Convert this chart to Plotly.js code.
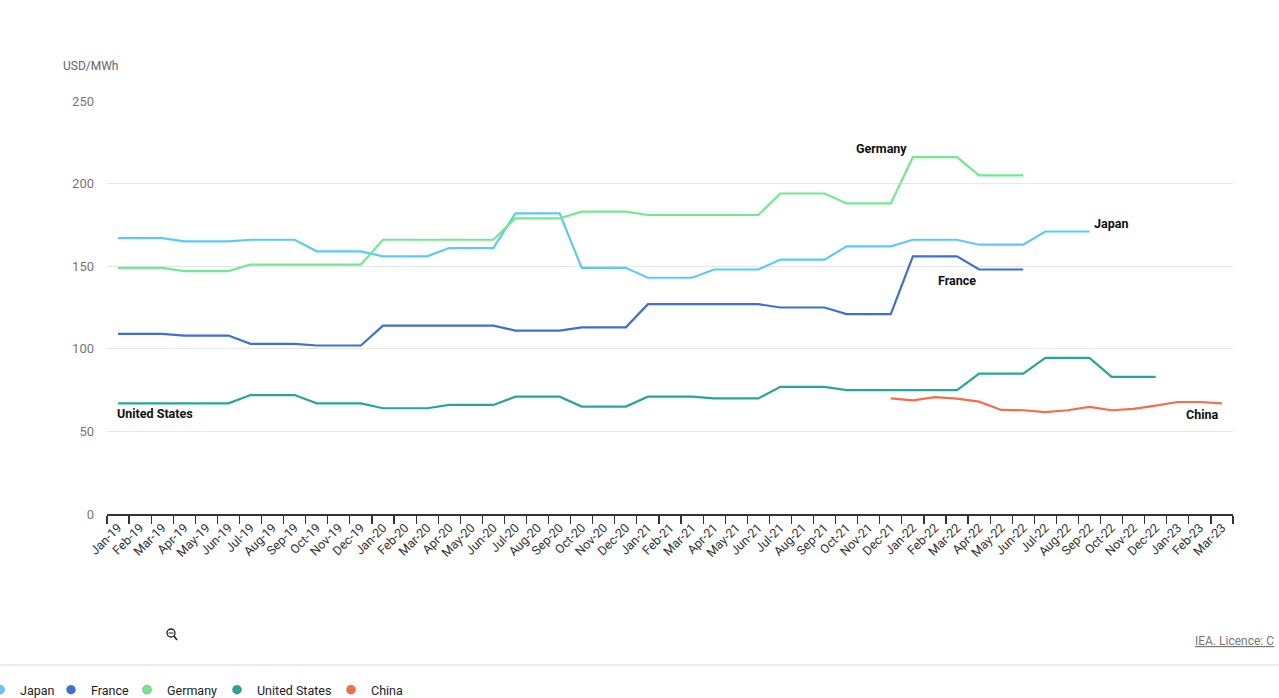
<!DOCTYPE html>
<html>
<head>
<meta charset="utf-8">
<script src="https://cdn.plot.ly/plotly-3.0.1.min.js"></script>
<style>
  html, body { margin: 0; padding: 0; background: #ffffff; }
  #chart { width: 1279px; height: 698px; }
</style>
</head>
<body>
<div id="chart"></div>
<script>
const MONTHS = [
  "Jan-19", "Feb-19", "Mar-19", "Apr-19", "May-19", "Jun-19", "Jul-19", "Aug-19", "Sep-19", "Oct-19", "Nov-19", "Dec-19",
  "Jan-20", "Feb-20", "Mar-20", "Apr-20", "May-20", "Jun-20", "Jul-20", "Aug-20", "Sep-20", "Oct-20", "Nov-20", "Dec-20",
  "Jan-21", "Feb-21", "Mar-21", "Apr-21", "May-21", "Jun-21", "Jul-21", "Aug-21", "Sep-21", "Oct-21", "Nov-21", "Dec-21",
  "Jan-22", "Feb-22", "Mar-22", "Apr-22", "May-22", "Jun-22", "Jul-22", "Aug-22", "Sep-22", "Oct-22", "Nov-22", "Dec-22",
  "Jan-23", "Feb-23", "Mar-23",
];

const JAPAN = [
  167, 167, 167, 165, 165, 165, 166, 166, 166, 159, 159, 159,
  156, 156, 156, 161, 161, 161, 182, 182, 182, 149, 149, 149,
  143, 143, 143, 148, 148, 148, 154, 154, 154, 162, 162, 162,
  166, 166, 166, 163, 163, 163, 171, 171, 171, null, null, null,
  null, null, null,
];

const FRANCE = [
  109, 109, 109, 108, 108, 108, 103, 103, 103, 102, 102, 102,
  114, 114, 114, 114, 114, 114, 111, 111, 111, 113, 113, 113,
  127, 127, 127, 127, 127, 127, 125, 125, 125, 121, 121, 121,
  156, 156, 156, 148, 148, 148, null, null, null, null, null, null,
  null, null, null,
];

const GERMANY = [
  149, 149, 149, 147, 147, 147, 151, 151, 151, 151, 151, 151,
  166, 166, 166, 166, 166, 166, 179, 179, 179, 183, 183, 183,
  181, 181, 181, 181, 181, 181, 194, 194, 194, 188, 188, 188,
  216, 216, 216, 205, 205, 205, null, null, null, null, null, null,
  null, null, null,
];

const UNITED_STATES = [
  67, 67, 67, 67, 67, 67, 72, 72, 72, 67, 67, 67,
  64, 64, 64, 66, 66, 66, 71, 71, 71, 65, 65, 65,
  71, 71, 71, 70, 70, 70, 77, 77, 77, 75, 75, 75,
  75, 75, 75, 85, 85, 85, 94.5, 94.5, 94.5, 83, 83, 83,
  null, null, null,
];

const CHINA = [
  null, null, null, null, null, null, null, null, null, null, null, null,
  null, null, null, null, null, null, null, null, null, null, null, null,
  null, null, null, null, null, null, null, null, null, null, null, 70,
  68.8, 70.8, 69.8, 68, 63, 62.8, 61.7, 62.8, 64.8, 62.8, 63.6, 65.6,
  67.8, 67.8, 67,
];

const SERIES_NAMES = ["Japan", "France", "Germany", "United States", "China"];
const SERIES_VALUES = [JAPAN, FRANCE, GERMANY, UNITED_STATES, CHINA];

const COLORS = {
  "Japan": "#5bcaf7",
  "France": "#3f6fd4",
  "Germany": "#72e98f",
  "United States": "#27a697",
  "China": "#f66e47",
};

const FONT = "Roboto, \"Open Sans\", sans-serif";

// plot area in pixels: left 107, right 1233, top 101, bottom 514
const PLOT_W = 1126;
const PLOT_H = 413;
const px = (x) => (x - 107) / PLOT_W;
const py = (y) => (514 - y) / PLOT_H;

// where each legend label starts (px), one legend box per series
const LEGEND_TEXT_X = [20, 91, 167, 257, 371];
const legendId = (i) => (i === 0 ? "legend" : "legend" + (i + 1));

const lineTraces = SERIES_NAMES.map((name, i) => ({
  type: "scatter",
  mode: "lines",
  name,
  x: MONTHS,
  y: SERIES_VALUES[i],
  showlegend: false,
  connectgaps: false,
  hoverinfo: "skip",
  line: { color: COLORS[name], width: 2.2, shape: "linear" },
}));

// marker-only entries so the legend shows dots
const legendTraces = SERIES_NAMES.map((name, i) => ({
  type: "scatter",
  mode: "markers",
  name,
  x: [null],
  y: [null],
  legend: legendId(i),
  showlegend: true,
  hoverinfo: "skip",
  marker: {
    symbol: "circle",
    size: 9,
    color: COLORS[name],
    line: { color: "rgba(0,0,0,0.25)", width: 0.8 },
  },
}));

const endLabel = (text, x, y, xanchor) => ({
  text: "<b>" + text + "</b>",
  x, y,
  xref: "x", yref: "y",
  xanchor, yanchor: "middle",
  showarrow: false,
  font: { family: FONT, size: 12.5, color: "#111111" },
});

const layout = {
  width: 1279,
  height: 698,
  autosize: false,
  paper_bgcolor: "#ffffff",
  plot_bgcolor: "#ffffff",
  font: { family: FONT, color: "#333333" },
  margin: { l: 107, r: 46, t: 101, b: 184, autoexpand: false },
  showlegend: true,
  hovermode: false,
  dragmode: false,
  xaxis: {
    type: "category",
    categoryorder: "array",
    categoryarray: MONTHS,
    range: [-0.5, MONTHS.length - 0.5],
    tickson: "boundaries",
    ticks: "outside",
    ticklen: 8,
    tickwidth: 1.2,
    tickcolor: "#333333",
    showline: true,
    linecolor: "#333333",
    linewidth: 1.5,
    showgrid: false,
    zeroline: false,
    tickangle: -45,
    tickfont: { family: FONT, size: 12.5, color: "#333333" },
    fixedrange: true,
  },
  yaxis: {
    range: [0, 250],
    dtick: 50,
    tick0: 0,
    showline: false,
    zeroline: false,
    showgrid: true,
    gridcolor: "#e6e6e6",
    gridwidth: 1,
    ticks: "",
    ticklabelstandoff: 12,
    tickfont: { family: FONT, size: 13, color: "#777777" },
    fixedrange: true,
  },
  shapes: [
    {
      type: "line", xref: "paper", yref: "paper",
      x0: px(0), x1: px(1279), y0: py(665), y1: py(665),
      line: { color: "#e6e6e6", width: 1.5 },
    },
    {
      type: "circle", xref: "paper", yref: "paper",
      x0: px(167), x1: px(175), y0: py(629), y1: py(637),
      line: { color: "#222222", width: 1.3 },
    },
    {
      type: "line", xref: "paper", yref: "paper",
      x0: px(168.5), x1: px(173.5), y0: py(633), y1: py(633),
      line: { color: "#222222", width: 1 },
    },
    {
      type: "line", xref: "paper", yref: "paper",
      x0: px(174), x1: px(177), y0: py(636), y1: py(640),
      line: { color: "#222222", width: 1.6 },
    },
  ],
  annotations: [
    {
      text: "USD/MWh",
      xref: "paper", yref: "paper",
      x: px(61), y: py(66),
      xanchor: "left", yanchor: "middle",
      showarrow: false,
      font: { family: FONT, size: 12, color: "#666666" },
    },
    {
      text: "<u>IEA. Licence: C</u>",
      xref: "paper", yref: "paper",
      x: px(1276), y: py(641),
      xanchor: "right", yanchor: "middle",
      showarrow: false,
      font: { family: FONT, size: 12, color: "#777777" },
    },
    endLabel("Germany", 34.6, 221.5, "center"),
    endLabel("Japan", 44.1, 176, "left"),
    endLabel("France", 38, 141.5, "center"),
    endLabel("United States", -0.15, 61, "left"),
    endLabel("China", 49.9, 60.5, "right"),
  ],
};

SERIES_NAMES.forEach((name, i) => {
  layout[legendId(i)] = {
    orientation: "h",
    x: px(LEGEND_TEXT_X[i] - 40),
    xanchor: "left",
    y: py(690),
    yanchor: "middle",
    font: { family: FONT, size: 12.5, color: "#222222" },
    bgcolor: "rgba(0,0,0,0)",
    borderwidth: 0,
    itemclick: false,
    itemdoubleclick: false,
  };
});

Plotly.newPlot("chart", [...lineTraces, ...legendTraces], layout, {
  displayModeBar: false,
  staticPlot: true,
  responsive: false,
});
</script>
</body>
</html>
